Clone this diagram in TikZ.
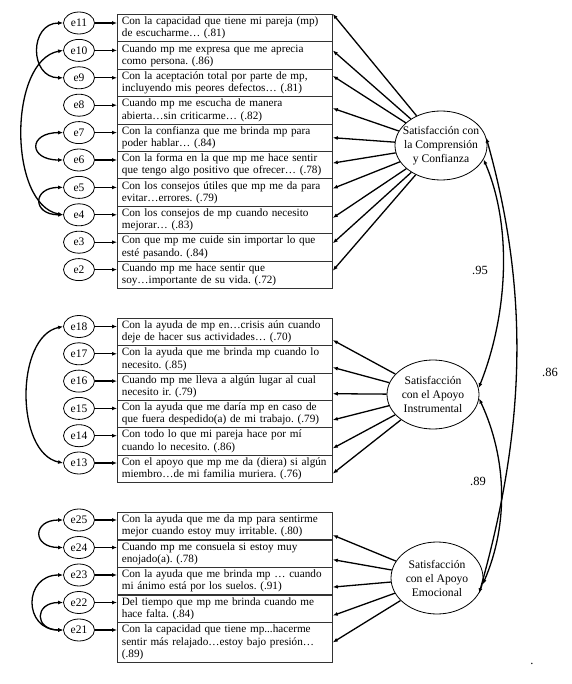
\documentclass[tikz,border=0pt]{standalone}
\usepackage{fontspec}
\setmainfont{Liberation Serif}
\usetikzlibrary{arrows.meta,shapes.geometric}
\frenchspacing

\begin{document}
\begin{tikzpicture}[x=1pt,y=-1pt,
  item/.style={draw=black!80, line width=0.8pt, rectangle, anchor=north west, minimum width=215pt, minimum height=27.4pt, text width=206pt, inner xsep=4.5pt, inner ysep=1pt, align=left, font=\fontsize{11.2}{12.3}\selectfont},
  err/.style={draw, ellipse, line width=0.8pt, minimum width=31pt, minimum height=22pt, inner sep=0pt, font=\fontsize{11.5}{12}\selectfont},
  fac/.style={draw, ellipse, line width=0.8pt, minimum width=92pt, minimum height=69pt, inner xsep=-12pt, inner ysep=0pt, align=center, font=\fontsize{11.6}{14}\selectfont},
  lnk/.style={line width=1.3pt, -{Latex[length=5pt,width=4pt]}},
  cov/.style={line width=1.3pt, {Latex[length=5pt,width=4pt]}-{Latex[length=5pt,width=4pt]}},
  num/.style={font=\fontsize{12.5}{14}\selectfont}]
\useasboundingbox (0,0) rectangle (571,684);

% comprension y confianza
\node[item] (b11) at (117,14) {Con la capacidad que tiene mi pareja (mp)\\de escucharme… (.81)};
\node[item] (b10) at (117,41.4) {Cuando mp me expresa que me aprecia\\como persona. (.86)};
\node[item] (b9) at (117,68.8) {Con la aceptación total por parte de mp,\\incluyendo mis peores defectos… (.81)};
\node[item] (b8) at (117,96.2) {Cuando mp me escucha de manera\\abierta…sin criticarme… (.82)};
\node[item] (b7) at (117,123.6) {Con la confianza que me brinda mp para\\poder hablar… (.84)};
\node[item] (b6) at (117,151) {Con la forma en la que mp me hace sentir\\que tengo algo positivo que ofrecer… (.78)};
\node[item] (b5) at (117,178.4) {Con los consejos útiles que mp me da para\\evitar…errores. (.79)};
\node[item] (b4) at (117,205.8) {Con los consejos de mp cuando necesito\\mejorar… (.83)};
\node[item] (b3) at (117,233.2) {Con que mp me cuide sin importar lo que\\esté pasando. (.84)};
\node[item] (b2) at (117,260.6) {Cuando mp me hace sentir que\\soy…importante de su vida. (.72)};

\node[err] (e11) at (79,23) {e11};
\node[err] (e10) at (79,50.4) {e10};
\node[err] (e9) at (79,77.8) {e9};
\node[err] (e8) at (79,105.2) {e8};
\node[err] (e7) at (79,132.6) {e7};
\node[err] (e6) at (79,160) {e6};
\node[err] (e5) at (79,187.4) {e5};
\node[err] (e4) at (79,214.8) {e4};
\node[err] (e3) at (79,242.2) {e3};
\node[err] (e2) at (79,269.6) {e2};

% apoyo instrumental
\node[item] (b18) at (117,318) {Con la ayuda de mp en…crisis aún cuando\\deje de hacer sus actividades… (.70)};
\node[item] (b17) at (117,345.3) {Con la ayuda que me brinda mp cuando lo\\necesito. (.85)};
\node[item] (b16) at (117,372.6) {Cuando mp me lleva a algún lugar al cual\\necesito ir. (.79)};
\node[item] (b15) at (117,399.9) {Con la ayuda que me daría mp en caso de\\que fuera despedido(a) de mi trabajo. (.79)};
\node[item] (b14) at (117,427.2) {Con todo lo que mi pareja hace por mí\\cuando lo necesito. (.86)};
\node[item] (b13) at (117,454.5) {Con el apoyo que mp me da (diera) si algún\\miembro…de mi familia muriera. (.76)};

\node[err] (e18) at (79,326.5) {e18};
\node[err] (e17) at (79,353.8) {e17};
\node[err] (e16) at (79,381.1) {e16};
\node[err] (e15) at (79,408.4) {e15};
\node[err] (e14) at (79,435.7) {e14};
\node[err] (e13) at (79,463) {e13};

% apoyo emocional
\node[item] (b25) at (117,512) {Con la ayuda que me da mp para sentirme\\mejor cuando estoy muy irritable. (.80)};
\node[item] (b24) at (117,539.5) {Cuando mp me consuela si estoy muy\\enojado(a). (.78)};
\node[item] (b23) at (117,567) {Con la ayuda que me brinda mp … cuando\\mi ánimo está por los suelos. (.91)};
\node[item] (b22) at (117,594.5) {Del tiempo que mp me brinda cuando me\\hace falta. (.84)};
\node[item, minimum height=40pt] (b21) at (117,622) {Con la capacidad que tiene mp...hacerme\\sentir más relajado…estoy bajo presión…\\(.89)};

\node[err] (e25) at (79,520) {e25};
\node[err] (e24) at (79,547.5) {e24};
\node[err] (e23) at (79,575) {e23};
\node[err] (e22) at (79,602.5) {e22};
\node[err] (e21) at (79,630) {e21};

% factores
\node[fac] (F1) at (441,145.5) {Satisfacción con\\la Comprensión\\y Confianza};
\node[fac] (F2) at (433,394.5) {Satisfacción\\con el Apoyo\\Instrumental};
\node[fac, minimum height=72pt] (F3) at (437,578) {Satisfacción\\con el Apoyo\\Emocional};

% errores -> items
\draw[lnk] (e11) -- (e11 -| b11.west);
\draw[lnk] (e10) -- (e10 -| b10.west);
\draw[lnk] (e9) -- (e9 -| b9.west);
\draw[lnk] (e8) -- (e8 -| b8.west);
\draw[lnk] (e7) -- (e7 -| b7.west);
\draw[lnk] (e6) -- (e6 -| b6.west);
\draw[lnk] (e5) -- (e5 -| b5.west);
\draw[lnk] (e4) -- (e4 -| b4.west);
\draw[lnk] (e3) -- (e3 -| b3.west);
\draw[lnk] (e2) -- (e2 -| b2.west);
\draw[lnk] (e18) -- (e18 -| b18.west);
\draw[lnk] (e17) -- (e17 -| b17.west);
\draw[lnk] (e16) -- (e16 -| b16.west);
\draw[lnk] (e15) -- (e15 -| b15.west);
\draw[lnk] (e14) -- (e14 -| b14.west);
\draw[lnk] (e13) -- (e13 -| b13.west);
\draw[lnk] (e25) -- (e25 -| b25.west);
\draw[lnk] (e24) -- (e24 -| b24.west);
\draw[lnk] (e23) -- (e23 -| b23.west);
\draw[lnk] (e22) -- (e22 -| b22.west);
\draw[lnk] (e21) -- (e21 -| b21.west);

% cargas factoriales
\draw[lnk] (F1) -- (b11.north east);
\draw[lnk] (F1) -- ([yshift=5pt]b10.east);
\draw[lnk] (F1) -- ([yshift=7pt]b9.east);
\draw[lnk] (F1) -- ([yshift=2pt]b8.east);
\draw[lnk] (F1) -- (b7.east);
\draw[lnk] (F1) -- ([yshift=2pt]b6.east);
\draw[lnk] (F1) -- ([yshift=4pt]b5.east);
\draw[lnk] (F1) -- ([yshift=2pt]b4.east);
\draw[lnk] (F1) -- ([yshift=4pt]b3.east);
\draw[lnk] (F1) -- ([yshift=4pt]b2.east);
\draw[lnk] (F2) -- ([yshift=-8pt]b18.east);
\draw[lnk] (F2) -- ([yshift=-8pt]b17.east);
\draw[lnk] (F2) -- ([yshift=-7pt]b16.east);
\draw[lnk] (F2) -- ([yshift=-6pt]b15.east);
\draw[lnk] (F2) -- ([yshift=-7pt]b14.east);
\draw[lnk] (F2) -- ([yshift=-5pt]b13.east);
\draw[lnk] (F3) -- ([yshift=-9pt]b25.east);
\draw[lnk] (F3) -- ([yshift=-6pt]b24.east);
\draw[lnk] (F3) -- ([yshift=-6pt]b23.east);
\draw[lnk] (F3) -- ([yshift=-7pt]b22.east);
\draw[lnk] (F3) -- (b21.east);

% covarianzas de errores
\draw[cov] (e11.west) .. controls +(-34,0) and +(-34,0) .. (e9.west);
\draw[cov] (e10.west) .. controls +(-55,10) and +(-55,-10) .. (e4.west);
\draw[cov] (e7.west) .. controls +(-35,0) and +(-35,0) .. (e6.west);
\draw[cov] (e5.west) .. controls +(-31,0) and +(-31,0) .. (e4.west);
\draw[cov] (e18.west) .. controls +(-48,10) and +(-48,-10) .. (e13.west);
\draw[cov] (e25.west) .. controls +(-31,0) and +(-31,0) .. (e24.west);
\draw[cov] (e23.west) .. controls +(-40,0) and +(-40,0) .. (e21.west);
\draw[cov] (e22.west) .. controls +(-29,0) and +(-29,0) .. (e21.west);

% covarianzas de factores
\draw[cov] (F1.-18) .. controls +(30,70) and +(28,-70) .. (F2.8);
\draw[cov] (F1.10) .. controls +(45,160) and +(45,-160) .. (F3.-20);
\draw[cov] (F2.-5) .. controls +(28,60) and +(26,-60) .. (F3.-8);
\node[num] (r95) at (480,270) {.95};
\node[num] (r86) at (550,372) {.86};
\node[num] (r89) at (478,481) {.89};
\node[num, inner sep=0pt] (pt) at (532,664) {.};
\end{tikzpicture}
\end{document}
